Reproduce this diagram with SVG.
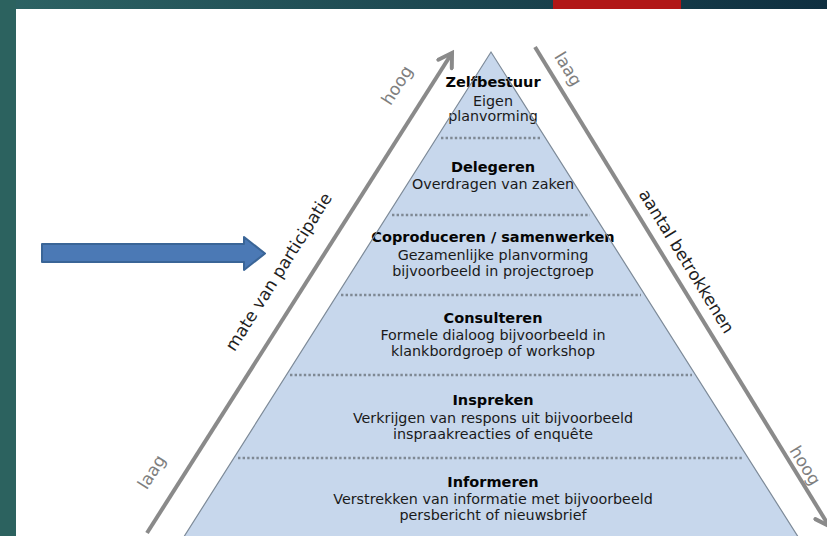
<svg xmlns="http://www.w3.org/2000/svg" width="827" height="536" viewBox="0 0 827 536">
  <defs>
    <linearGradient id="topband" x1="0" y1="0" x2="1" y2="0">
      <stop offset="0" stop-color="#2d6364"/>
      <stop offset="1" stop-color="#0f2f40"/>
    </linearGradient>
    <marker id="chev" viewBox="-16 -10 20 20" refX="0" refY="0" markerWidth="20" markerHeight="20" markerUnits="userSpaceOnUse" orient="auto">
      <path d="M-13,-8 L0,0 L-13,8" fill="none" stroke="#8a8a8a" stroke-width="4" stroke-linecap="round" stroke-linejoin="miter"/>
    </marker>
    <style>
      .lvl { fill: #c7d7ec; }
      .edge { fill: none; stroke: #7d8a98; stroke-width: 1.2; }
      .sep { stroke: #7f8994; stroke-width: 2.6; stroke-dasharray: 2.4 2.2; fill: none; }
      .t { font-family: "DejaVu Sans", Verdana, sans-serif; font-size: 14.3px; fill: #1a1a1a; text-anchor: middle; }
      .b { font-family: "DejaVu Sans", Verdana, sans-serif; font-size: 14.5px; font-weight: bold; fill: #050505; text-anchor: middle; }
      .axis { stroke: #8a8a8a; stroke-width: 4; fill: none; stroke-linecap: butt; }
      .al { font-family: "DejaVu Sans", Verdana, sans-serif; font-size: 17px; text-anchor: middle; }
      .gray { fill: #7f7f7f; }
      .dark { fill: #1e1e1e; }
    </style>
  </defs>

  <!-- frame -->
  <rect x="0" y="0" width="827" height="536" fill="#ffffff"/>
  <rect x="0" y="0" width="827" height="9" fill="url(#topband)"/>
  <rect x="553" y="0" width="128" height="9" fill="#b11717"/>
  <rect x="0" y="0" width="16" height="536" fill="#2c625f"/>

  <!-- pyramid levels -->
  <g id="zelfbestuur">
    <polygon class="lvl" points="491,52 545.5,138 436.5,138"/>
    <text class="b" x="493" y="87">Zelfbestuur</text>
    <text class="t" x="493" y="106">Eigen</text>
    <text class="t" x="493" y="121">planvorming</text>
  </g>
  <g id="delegeren">
    <polygon class="lvl" points="436.5,138 545.5,138 594.2,215 387.8,215"/>
    <text class="b" x="493" y="172">Delegeren</text>
    <text class="t" x="493" y="189">Overdragen van zaken</text>
  </g>
  <g id="coproduceren">
    <polygon class="lvl" points="387.8,215 594.2,215 644.9,295 337.1,295"/>
    <text class="b" x="493" y="242">Coproduceren / samenwerken</text>
    <text class="t" x="493" y="260">Gezamenlijke planvorming</text>
    <text class="t" x="493" y="276">bijvoorbeeld in projectgroep</text>
  </g>
  <g id="consulteren">
    <polygon class="lvl" points="337.1,295 644.9,295 695.6,375 286.4,375"/>
    <text class="b" x="493" y="323">Consulteren</text>
    <text class="t" x="493" y="340">Formele dialoog bijvoorbeeld in</text>
    <text class="t" x="493" y="356">klankbordgroep of workshop</text>
  </g>
  <g id="inspreken">
    <polygon class="lvl" points="286.4,375 695.6,375 748.1,458 233.9,458"/>
    <text class="b" x="493" y="405">Inspreken</text>
    <text class="t" x="493" y="423">Verkrijgen van respons uit bijvoorbeeld</text>
    <text class="t" x="493" y="439">inspraakreacties of enquête</text>
  </g>
  <g id="informeren">
    <polygon class="lvl" points="233.9,458 748.1,458 800.1,540 181.9,540"/>
    <text class="b" x="493" y="487">Informeren</text>
    <text class="t" x="493" y="504">Verstrekken van informatie met bijvoorbeeld</text>
    <text class="t" x="493" y="520">persbericht of nieuwsbrief</text>
  </g>

  <!-- pyramid outline and separators -->
  <g id="pyramid-lines">
    <path class="edge" d="M181.9,540 L491,52 L800.1,540"/>
    <line class="sep" x1="441" y1="138" x2="542" y2="138"/>
    <line class="sep" x1="392" y1="215" x2="590" y2="215"/>
    <line class="sep" x1="341" y1="295" x2="641" y2="295"/>
    <line class="sep" x1="290" y1="375" x2="692" y2="375"/>
    <line class="sep" x1="238" y1="458" x2="744" y2="458"/>
  </g>

  <!-- blue pointer arrow -->
  <g id="pointer">
    <path d="M42,244 H244 V237 L265,253.5 L244,270 V262 H42 Z" fill="#4b79b5" stroke="#3a6597" stroke-width="2" stroke-linejoin="round"/>
  </g>

  <!-- axis connectors -->
  <g id="connectors">
    <line class="axis" x1="147" y1="533" x2="452" y2="53" marker-end="url(#chev)"/>
    <line class="axis" x1="535" y1="47" x2="829" y2="526" marker-end="url(#chev)"/>
  </g>

  <!-- axis labels -->
  <g id="axis-left-labels" transform="translate(147,533) rotate(-57.6)">
    <text class="al gray" x="54" y="-23">laag</text>
    <text class="al dark" x="291" y="-23">mate van participatie</text>
    <text class="al gray" x="512" y="-23">hoog</text>
  </g>
  <g id="axis-right-labels" transform="translate(535,47) rotate(58.4)">
    <text class="al gray" x="36" y="-11">laag</text>
    <text class="al dark" x="262" y="-11">aantal betrokkenen</text>
    <text class="al gray" x="498" y="-5">hoog</text>
  </g>
</svg>
